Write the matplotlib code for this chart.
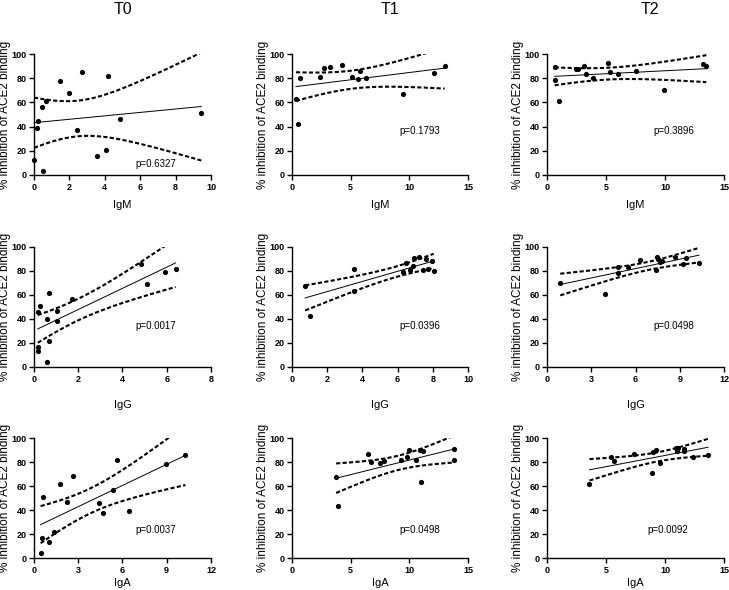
import numpy as np
import matplotlib
matplotlib.use("Agg")
import matplotlib.pyplot as plt

plt.rcParams['font.family'] = ['Liberation Sans', 'DejaVu Sans']

# ---------------- data ----------------
col_titles = ["T0", "T1", "T2"]
row_labels = ["IgM", "IgG", "IgA"]
y_label = "% inhibition of ACE2 binding"

# Row 1: IgM
t0_igm_x = [0.0, 0.15, 0.2, 0.45, 0.53, 0.7, 1.45, 2.0, 2.44, 2.69, 3.54, 4.04, 4.19, 4.84, 9.45]
t0_igm_y = [12.7, 39, 45, 56, 3.3, 61, 78, 68, 37, 85, 15.7, 21, 81.5, 46, 51]
t1_igm_x = [0.34, 0.54, 0.65, 2.35, 2.75, 3.2, 4.27, 5.1, 5.66, 5.8, 6.3, 9.43, 12.14, 13.0]
t1_igm_y = [63, 42.5, 80.4, 81, 88.7, 89.5, 91, 81, 79, 86, 80, 67, 84, 90.3]
t2_igm_x = [0.65, 0.65, 1.05, 2.42, 2.62, 3.13, 3.27, 3.93, 5.2, 5.3, 6.03, 7.5, 9.88, 13.18, 13.5]
t2_igm_y = [89.5, 78.5, 60.8, 88, 87.6, 90.3, 83.4, 79.8, 92.3, 85.4, 83.4, 86.2, 70, 91.4, 90.3]

# Row 2: IgG
t0_igg_x = [0.17, 0.17, 0.17, 0.27, 0.58, 0.58, 0.67, 0.68, 1.04, 1.05, 1.73, 4.85, 5.1, 5.9, 6.4]
t0_igg_y = [46, 17, 13.5, 51, 40, 4, 62, 22, 38, 47, 56.4, 86, 69, 79, 82]
t1_igg_x = [0.75, 1.0, 3.5, 3.55, 6.3, 6.5, 6.7, 6.85, 6.95, 7.2, 7.45, 7.6, 7.75, 7.95, 8.05]
t1_igg_y = [67.5, 42.5, 81.5, 63.5, 79, 86.5, 80.5, 84, 90.5, 91.5, 81, 90, 81.5, 88.5, 80]
t2_igg_x = [0.9, 3.94, 4.8, 4.8, 5.47, 6.3, 7.43, 7.36, 7.55, 7.66, 7.77, 8.67, 9.19, 9.4, 10.3]
t2_igg_y = [70.4, 60.8, 83.7, 78.5, 83.2, 89.2, 92, 80.7, 89.8, 87.6, 88.4, 92, 85.9, 91.2, 86.7]

# Row 3: IgA
t0_iga_x = [0.45, 0.56, 0.61, 1.01, 1.35, 1.78, 2.22, 2.65, 4.43, 4.67, 5.33, 5.66, 6.45, 8.94, 10.27]
t0_iga_y = [4.1, 16.6, 51.1, 13.3, 21.5, 61.6, 46.4, 68.5, 46.1, 37.3, 56.6, 81.5, 39.5, 78.7, 86.2]
t1_iga_x = [3.76, 3.96, 6.46, 6.72, 7.46, 7.83, 9.28, 9.82, 9.95, 10.53, 10.9, 11.02, 11.16, 13.78, 13.78]
t1_iga_y = [67.7, 43.4, 86.5, 80.1, 79.3, 81.2, 81.5, 84.3, 89.8, 81.5, 90.3, 63.5, 89.2, 91.2, 81.5]
t2_iga_x = [3.6, 5.45, 5.7, 7.4, 8.9, 8.95, 9.2, 9.6, 10.9, 11.0, 11.1, 11.6, 11.6, 12.35, 13.65]
t2_iga_y = [61.5, 84, 81, 86.5, 71, 88, 90, 79.5, 92, 89.5, 91.5, 91, 89.5, 84, 86]

p_values = [["p=0.6327", "p=0.1793", "p=0.3896"],
            ["p=0.0017", "p=0.0396", "p=0.0498"],
            ["p=0.0037", "p=0.0498", "p=0.0092"]]

x_max = [[10, 15, 15], [8, 10, 12], [12, 15, 15]]
x_step = [[2, 5, 5], [2, 2, 3], [3, 5, 5]]

data = [[(t0_igm_x, t0_igm_y), (t1_igm_x, t1_igm_y), (t2_igm_x, t2_igm_y)],
        [(t0_igg_x, t0_igg_y), (t1_igg_x, t1_igg_y), (t2_igg_x, t2_igg_y)],
        [(t0_iga_x, t0_iga_y), (t1_iga_x, t1_iga_y), (t2_iga_x, t2_iga_y)]]

# ---------------- layout ----------------
W, H = 729, 590
fig = plt.figure(figsize=(W / 100, H / 100), dpi=100)

col_left = [34, 292, 547]
col_width = [177, 176, 177]
row_top = [54, 247, 438]
row_height = [121, 120, 120]

p_pos = [[(0.686, 0.09), (0.727, 0.366), (0.716, 0.366)],
         [(0.686, 0.342), (0.727, 0.342), (0.716, 0.342)],
         [(0.69, 0.233), (0.727, 0.233), (0.682, 0.233)]]

T_CRIT = {10: 2.228, 11: 2.201, 12: 2.179, 13: 2.160, 14: 2.145, 15: 2.131}

for r in range(3):
    for c in range(3):
        left = col_left[c] / W
        bottom = 1 - (row_top[r] + row_height[r]) / H
        ax = fig.add_axes([left, bottom, col_width[c] / W, row_height[r] / H])
        x = np.asarray(data[r][c][0], float)
        y = np.asarray(data[r][c][1], float)
        n = len(x)
        slope, icpt = np.polyfit(x, y, 1)
        resid = y - (slope * x + icpt)
        s = np.sqrt(np.sum(resid ** 2) / (n - 2))
        xbar = x.mean()
        sxx = np.sum((x - xbar) ** 2)
        xs = np.linspace(x.min(), x.max(), 200)
        yh = slope * xs + icpt
        half = T_CRIT[n - 2] * s * np.sqrt(1.0 / n + (xs - xbar) ** 2 / sxx)
        ax.plot(xs, yh, color='black', lw=0.7)
        ax.plot(xs, yh + half, color='black', lw=1.5, linestyle=(0, (2.0, 1.1)))
        ax.plot(xs, yh - half, color='black', lw=1.5, linestyle=(0, (2.0, 1.1)))
        ax.scatter(x, y, s=14, color='black', zorder=5, clip_on=False, linewidths=0)

        ax.set_xlim(0, x_max[r][c])
        ax.set_ylim(0, 100)
        ax.set_xticks(np.arange(0, x_max[r][c] + 0.01, x_step[r][c]))
        ax.set_yticks(np.arange(0, 101, 20))
        for sp in ['top', 'right']:
            ax.spines[sp].set_visible(False)
        for sp in ['left', 'bottom']:
            ax.spines[sp].set_linewidth(1.0)
        ax.tick_params(direction='out', length=3.5, width=1.0, labelsize=6.5, pad=2)
        for lab in ax.get_xticklabels() + ax.get_yticklabels():
            lab.set_fontweight('bold')
        ax.set_ylabel(y_label, fontsize=8.5)
        ax.yaxis.label.set_verticalalignment('center')
        ax.yaxis.set_label_coords(-29.0 / col_width[c], 0.5)
        ax.text(p_pos[r][c][0], p_pos[r][c][1], p_values[r][c], transform=ax.transAxes,
                ha='center', va='center', fontsize=7)

# x labels (row antibody names)
xlabel_y = [205, 405, 583]
for r in range(3):
    for c in range(3):
        cx = (col_left[c] + col_width[c] / 2) / W
        fig.text(cx, 1 - xlabel_y[r] / H, row_labels[r], ha='center', va='center', fontsize=8)

# column titles
title_x = [123, 390, 650]
for c in range(3):
    fig.text(title_x[c] / W, 1 - 10 / H, col_titles[c], ha='center', va='center', fontsize=11.5)

fig.savefig("out.png", dpi=100)
